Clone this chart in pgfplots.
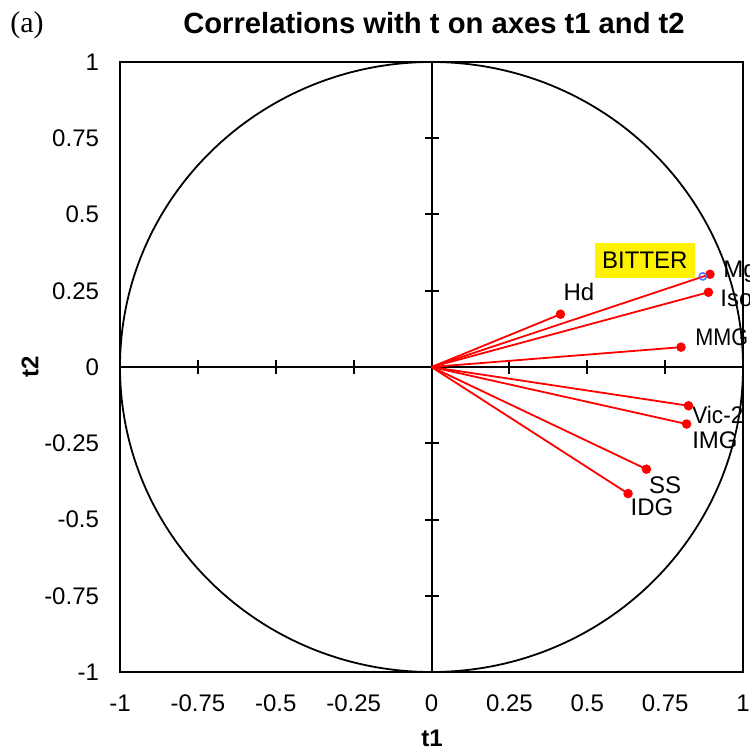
\documentclass[border=0pt]{standalone}
\usepackage{pgfplots}
\pgfplotsset{compat=1.18}
\usepackage{fontspec}
\setmainfont{Liberation Sans}
\newfontfamily\timesf{Liberation Serif}
\definecolor{bitterblue}{RGB}{80,120,255}
\tikzset{lbl/.style={font=\fontsize{12bp}{14bp}\selectfont, inner sep=0pt}}
\pgfplotsset{var/.style={red, line width=0.9bp, mark=*, mark size=1.9bp, mark indices={2}, mark options={solid, fill=red}}}
\begin{document}
\begin{tikzpicture}
\begin{axis}[
  at={(0,0)}, anchor=south west,
  scale only axis, width=311.5bp, height=305bp,
  xmin=-1, xmax=1, ymin=-1, ymax=1,
  clip=false,
  axis line style={line width=0.8bp},
  xtick={-1,-0.75,-0.5,-0.25,0,0.25,0.5,0.75,1},
  ytick={-1,-0.75,-0.5,-0.25,0,0.25,0.5,0.75,1},
  xticklabels={-1,-0.75,-0.5,-0.25,0,0.25,0.5,0.75,1},
  yticklabels={-1,-0.75,-0.5,-0.25,0,0.25,0.5,0.75,1},
  major tick length=0pt,
  tick label style={font=\fontsize{12bp}{14bp}\selectfont},
  xticklabel style={yshift=-8bp},
  yticklabel style={xshift=-7bp},
]
% unit circle
\draw[line width=0.9bp] (axis cs:0,0) ellipse [x radius=1, y radius=1];
% zero lines
\draw[line width=1bp] (axis cs:-1,0) -- (axis cs:1,0);
\draw[line width=1bp] (axis cs:0,-1) -- (axis cs:0,1);
% ticks on zero lines
\pgfplotsinvokeforeach{-0.75,-0.5,-0.25,0.25,0.5,0.75}{
  \draw[line width=1bp] ([yshift=-3.5bp]axis cs:#1,0) -- ([yshift=3.5bp]axis cs:#1,0);
  \draw[line width=1bp] ([xshift=-3.5bp]axis cs:0,#1) -- ([xshift=3.5bp]axis cs:0,#1);
}
% variables
\addplot[var] coordinates {(0,0) (0.894,0.304)};
\addplot[var] coordinates {(0,0) (0.889,0.245)};
\addplot[var] coordinates {(0,0) (0.414,0.173)};
\addplot[var] coordinates {(0,0) (0.801,0.065)};
\addplot[var] coordinates {(0,0) (0.825,-0.127)};
\addplot[var] coordinates {(0,0) (0.819,-0.187)};
\addplot[var] coordinates {(0,0) (0.690,-0.335)};
\addplot[var] coordinates {(0,0) (0.631,-0.415)};
% supplementary variable BITTER
\addplot[only marks, mark=o, mark size=1.8bp, bitterblue, line width=0.8bp, mark options={fill=white}] coordinates {(0.871,0.297)};
% labels
\node[lbl, anchor=west] at (axis cs:0.936,0.311) {Mg};
\node[lbl, anchor=west] at (axis cs:0.926,0.226) {Iso};
\node[lbl] at (axis cs:0.473,0.246) {Hd};
\node[lbl, anchor=west] at (axis cs:0.846,0.098) {\scalebox{0.9}[1]{MMG}};
\node[lbl, anchor=west] at (axis cs:0.836,-0.157) {\scalebox{0.94}[1]{Vic-2}};
\node[lbl, anchor=west] at (axis cs:0.836,-0.239) {IMG};
\node[lbl] at (axis cs:0.750,-0.387) {SS};
\node[lbl] at (axis cs:0.708,-0.459) {IDG};
\node[fill=yellow, minimum width=50bp, minimum height=17.5bp, inner sep=0pt, font=\fontsize{12bp}{14bp}\selectfont] at (axis cs:0.685,0.349) {BITTER};
\end{axis}
% title and axis labels
\node[font=\bfseries\fontsize{14.6bp}{17bp}\selectfont] at (157bp,324.5bp) {Correlations with t on axes t1 and t2};
\node[font=\timesf\fontsize{15bp}{17bp}\selectfont] at (-46.5bp,323.5bp) {(a)};
\node[font=\bfseries\fontsize{12bp}{14bp}\selectfont] at (156bp,-33bp) {t1};
\node[font=\bfseries\fontsize{12bp}{14bp}\selectfont, rotate=90] at (-45bp,152.5bp) {t2};
\pgfresetboundingbox
\useasboundingbox (-60bp,-40bp) rectangle (315bp,336bp);
\end{tikzpicture}
\end{document}
